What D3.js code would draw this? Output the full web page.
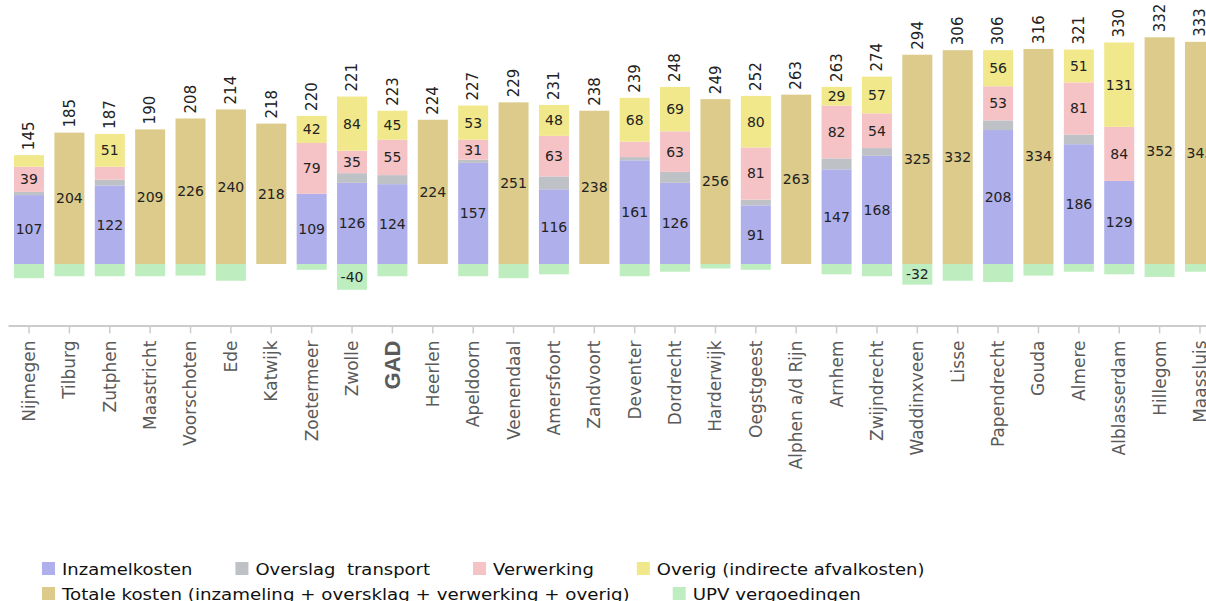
<!DOCTYPE html>
<html>
<head>
<meta charset="utf-8">
<script src="https://cdn.jsdelivr.net/npm/d3@7"></script>
<style>
  body { margin: 0; background: #fff; }
  svg { display: block; font-family: "DejaVu Sans", Verdana, sans-serif; }
</style>
</head>
<body>
<svg id="chart" width="1206" height="601"></svg>
<script>
// gemeenten, van laag naar hoog
var steden = ["Nijmegen","Tilburg","Zutphen","Maastricht","Voorschoten","Ede","Katwijk","Zoetermeer","Zwolle","GAD",
  "Heerlen","Apeldoorn","Veenendaal","Amersfoort","Zandvoort","Deventer","Dordrecht","Harderwijk","Oegstgeest","Alphen a/d Rijn",
  "Arnhem","Zwijndrecht","Waddinxveen","Lisse","Papendrecht","Gouda","Almere","Alblasserdam","Hillegom","Maassluis"];

// kosten per onderdeel (0 = geen uitsplitsing bekend)
var inzamel    = [107,0,122,0,0,0,0,109,126,124,0,157,0,116,0,161,126,0,91,0,147,168,0,0,208,0,186,129,0,0];
var overslag   = [5,0,9,0,0,0,0,0,15,14,0,5,0,20,0,5,17,0,9,0,17,12,0,0,15,0,15,0,0,0];
var verwerking = [39,0,20,0,0,0,0,79,35,55,0,31,0,63,0,24,63,0,81,0,82,54,0,0,53,0,81,84,0,0];
var overig     = [18,0,51,0,0,0,0,42,84,45,0,53,0,48,0,68,69,0,80,0,29,57,0,0,56,0,51,131,0,0];
var totaal     = [0,204,0,209,226,240,218,0,0,0,224,0,251,0,238,0,0,256,0,263,0,0,325,332,0,334,0,0,352,345];
var upv        = [-22,-19,-19,-19,-18,-26,0,-9,-40,-19,0,-19,-22,-16,0,-19,-12,-7,-9,0,-16,-19,-32,-26,-28,-18,-12,-16,-20,-12];
// netto bedrag boven de staaf
var netto      = [145,185,187,190,208,214,218,220,221,223,224,227,229,231,238,239,248,249,252,263,263,274,294,306,306,316,321,330,332,333];

var reeksen = [
  {key: "inzamel",    naam: "Inzamelkosten",        kleur: "#afafeb", data: inzamel},
  {key: "overslag",   naam: "Overslag  transport",  kleur: "#bec1c6", data: overslag},
  {key: "verwerking", naam: "Verwerking",           kleur: "#f5c3c6", data: verwerking},
  {key: "overig",     naam: "Overig (indirecte afvalkosten)", kleur: "#f0e88a", data: overig},
  {key: "totaal",     naam: "Totale kosten (inzameling + oversklag + verwerking + overig)", kleur: "#dccb8a", data: totaal},
  {key: "upv",        naam: "UPV vergoedingen",     kleur: "#beeec0", data: upv}
];

var svg = d3.select("#chart");

var x = d3.scaleBand()
  .domain(steden)
  .range([8, 1221])
  .paddingInner(0.257)
  .paddingOuter(0.149);

var y = d3.scaleLinear()
  .domain([0, 400])
  .range([264, 264 - 400 * 0.644]);

// stack the positive parts, upv hangs below zero
var rows = steden.map(function(s, i) {
  var segs = [], y0 = 0;
  reeksen.forEach(function(r) {
    if (r.key === "upv") return;
    var v = r.data[i];
    if (v > 0) {
      segs.push({stad: s, key: r.key, kleur: r.kleur, v: v, y0: y0, y1: y0 + v});
      y0 += v;
    }
  });
  if (upv[i] < 0) segs.push({stad: s, key: "upv", kleur: reeksen[5].kleur, v: upv[i], y0: upv[i], y1: 0});
  return {stad: s, segs: segs, top: y0, netto: netto[i]};
});

var bar = svg.append("g").selectAll(".bar")
  .data(rows)
  .enter().append("g")
    .attr("class", "bar")
    .attr("transform", function(d) { return "translate(" + x(d.stad) + ",0)"; });

bar.selectAll("rect")
  .data(function(d) { return d.segs; })
  .enter().append("rect")
    .attr("x", 0)
    .attr("width", x.bandwidth())
    .attr("y", function(d) { return y(d.y1); })
    .attr("height", function(d) { return y(d.y0) - y(d.y1); })
    .attr("fill", function(d) { return d.kleur; });

// values inside segments, only when there is room
bar.selectAll(".val")
  .data(function(d) {
    return d.segs.filter(function(s) { return s.key === "upv" ? s.v <= -30 : s.v >= 28; });
  })
  .enter().append("text")
    .attr("class", "val")
    .attr("x", x.bandwidth() / 2)
    .attr("y", function(d) { return (y(d.y0) + y(d.y1)) / 2; })
    .attr("dy", "0.35em")
    .attr("text-anchor", "middle")
    .style("font-size", "14px")
    .style("fill", "#222")
    .text(function(d) { return d.v; });

// net amount on top, rotated
bar.append("text")
  .attr("transform", function(d) { return "translate(" + (x.bandwidth() / 2) + "," + (y(d.top) - 5) + ") rotate(-90)"; })
  .attr("dy", "0.35em")
  .style("font-size", "15px")
  .style("fill", "#222")
  .text(function(d) { return d.netto; });

// x axis
var ax = svg.append("g")
  .attr("transform", "translate(0,325.5)")
  .call(d3.axisBottom(x).tickSize(8).tickSizeOuter(0));
ax.select(".domain").attr("stroke", "#ccc").attr("stroke-width", 2);
ax.selectAll(".tick line").attr("stroke", "#ccc").attr("stroke-width", 1.5);
ax.selectAll(".tick text")
  .attr("transform", "rotate(-90)")
  .attr("x", -15)
  .attr("y", 0)
  .attr("dy", "0.35em")
  .style("text-anchor", "end")
  .style("font-family", "'DejaVu Sans', sans-serif")
  .style("font-size", "17px")
  .style("fill", "#5a5a5a");
ax.selectAll(".tick text")
  .filter(function(d) { return d === "GAD"; })
  .style("font-family", "'Liberation Sans', Arial, sans-serif")
  .style("font-weight", "bold")
  .style("font-size", "22px");

// legend, two rows, items flow left to right
var legRows = [[0, 1, 2, 3], [4, 5]];
var stretch = 1.125;
legRows.forEach(function(rij, ri) {
  var lx = 42, ly = 562 + ri * 25;
  rij.forEach(function(k) {
    var r = reeksen[k];
    var g = svg.append("g").attr("transform", "translate(" + lx + "," + ly + ")");
    g.append("rect").attr("width", 13).attr("height", 13).attr("fill", r.kleur);
    var t = g.append("text")
      .attr("transform", "translate(20,12.5) scale(" + (ri === 1 ? 1.14 : stretch) + ",1)")
      .style("font-size", "16px")
      .style("fill", "#111")
      .attr("xml:space", "preserve")
      .text(r.naam);
    lx += 20 + t.node().getComputedTextLength() * (ri === 1 ? 1.14 : stretch) + 43;
  });
});
</script>
</body>
</html>
